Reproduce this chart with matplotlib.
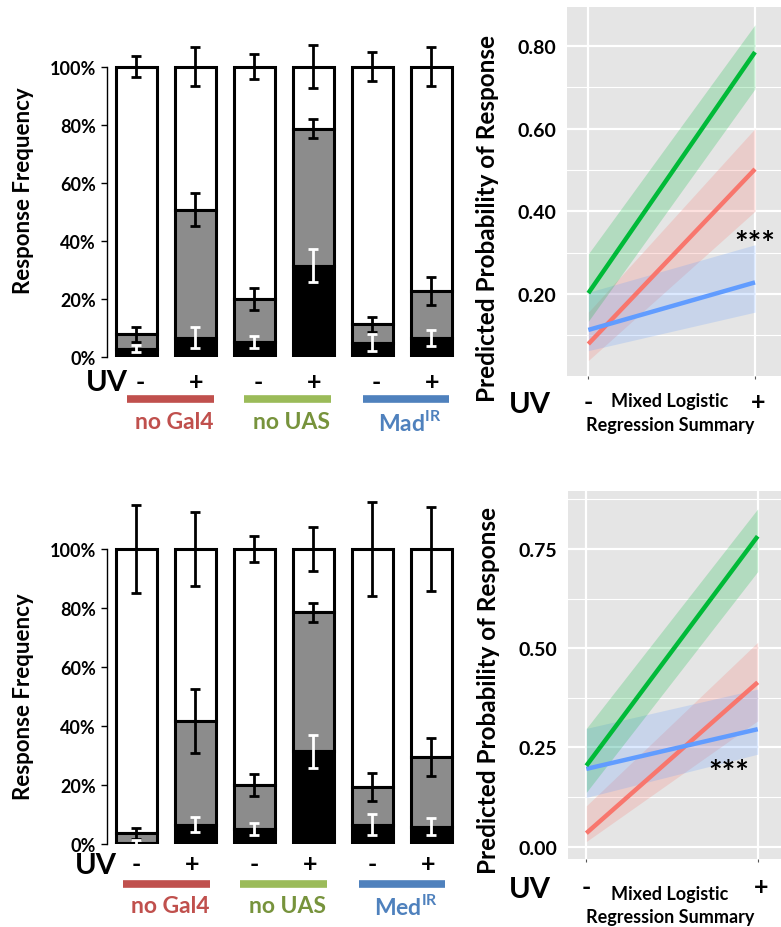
import numpy as np
import matplotlib.pyplot as plt
from matplotlib.lines import Line2D
from matplotlib.ticker import FixedLocator

plt.rcParams['font.family'] = ['Lato', 'DejaVu Sans']
plt.rcParams['font.weight'] = 'bold'
plt.rcParams['axes.labelweight'] = 'bold'
plt.rcParams['mathtext.fontset'] = 'custom'
plt.rcParams['mathtext.rm'] = 'Lato:bold'
plt.rcParams['mathtext.bf'] = 'Lato:bold'

# ---- data: stacked response bars (percent) ----
uv_signs = ['-', '+', '-', '+', '-', '+']
groups = ['no Gal4', 'no UAS']

top_black = [2.9, 6.7, 5.2, 31.5, 4.9, 6.5]
top_gray = [7.8, 50.7, 20.0, 78.6, 11.2, 22.7]      # cumulative top of grey segment
top_err_black = [1.3, 3.6, 2.1, 5.6, 3.0, 2.8]
top_err_gray = [2.5, 5.6, 3.7, 3.3, 2.5, 4.8]
top_err_white = [3.6, 6.7, 4.3, 7.3, 4.9, 6.7]

bot_black = [0.5, 6.6, 5.1, 31.4, 6.6, 5.9]
bot_gray = [3.6, 41.8, 20.1, 78.5, 19.4, 29.6]
bot_err_black = [0.9, 2.5, 2.1, 5.5, 3.5, 2.9]
bot_err_gray = [1.8, 10.8, 3.7, 3.3, 4.8, 6.4]
bot_err_white = [15.0, 12.4, 4.4, 7.3, 16.1, 14.4]

# ---- data: mixed logistic regression summary (UV -, UV +) ----
uv_x = [1, 2]
top_fit = {'green': [0.202, 0.785], 'red': [0.079, 0.502], 'blue': [0.113, 0.228]}
top_lo = {'green': [0.134, 0.696], 'red': [0.039, 0.400], 'blue': [0.063, 0.156]}
top_hi = {'green': [0.297, 0.851], 'red': [0.156, 0.600], 'blue': [0.204, 0.319]}

bot_fit = {'green': [0.204, 0.782], 'red': [0.034, 0.414], 'blue': [0.196, 0.296]}
bot_lo = {'green': [0.137, 0.693], 'red': [0.013, 0.317], 'blue': [0.124, 0.233]}
bot_hi = {'green': [0.298, 0.851], 'red': [0.103, 0.515], 'blue': [0.298, 0.397]}

line_cols = {'green': '#00BA38', 'red': '#F8766D', 'blue': '#619CFF'}
grp_line_cols = ['#C0504D', '#9BBB59', '#4F81BD']
grp_text_cols = ['#C0504D', '#77933C', '#4F81BD']

W, H = 781, 928
fig = plt.figure(figsize=(W / 100, H / 100), dpi=100)


def box(l, t, r, b):
    return [l / W, 1 - b / H, (r - l) / W, (b - t) / H]


def ftext(x, y, s, **kw):
    fig.text(x / W, 1 - y / H, s, ha='center', va='center', fontweight='bold', **kw)


def fline(x0, x1, y, col):
    fig.add_artist(Line2D([x0 / W, x1 / W], [1 - y / H, 1 - y / H],
                          transform=fig.transFigure, color=col, lw=5.5,
                          solid_capstyle='butt'))


def bars(ax, black, gray, eb, eg, ew, ytop):
    x = np.arange(len(black))
    b = np.array(black) / 100
    g = np.array(gray) / 100
    kw = dict(width=0.7, edgecolor='black', linewidth=2.2)
    ax.bar(x, 1 - g, bottom=g, color='white', **kw)
    ax.bar(x, g - b, bottom=b, color='#8c8c8c', **kw)
    ax.bar(x, b, color='black', **kw)
    ax.errorbar(x, np.ones(len(x)), yerr=np.array(ew) / 100, fmt='none',
                ecolor='black', elinewidth=2, capsize=3.5, capthick=2)
    ax.errorbar(x, g, yerr=np.array(eg) / 100, fmt='none',
                ecolor='black', elinewidth=2, capsize=3.5, capthick=2)
    ax.errorbar(x, b, yerr=np.array(eb) / 100, fmt='none',
                ecolor='white', elinewidth=2, capsize=3.5, capthick=2)
    ax.set_xlim(-0.5, 5.4)
    ax.set_ylim(0, ytop)
    ax.set_xticks([])
    ax.set_yticks([0, 0.2, 0.4, 0.6, 0.8, 1.0])
    ax.set_yticklabels(['0%', '20%', '40%', '60%', '80%', '100%'], fontweight='bold')
    ax.tick_params(axis='y', labelsize=13, length=4, width=1, pad=4)
    for s in ['top', 'right', 'bottom']:
        ax.spines[s].set_visible(False)
    ax.spines['left'].set_bounds(0, 1)
    ax.spines['left'].set_linewidth(1)
    ax.set_ylabel('Response Frequency', fontsize=16, fontweight='bold')


def summary(ax, fit, lo, hi, ylim, major, minor, xlim):
    ax.set_facecolor('#E5E5E5')
    for k in ['red', 'blue', 'green']:
        ax.fill_between(uv_x, lo[k], hi[k], color=line_cols[k], alpha=0.22, lw=0)
    for k in ['red', 'blue', 'green']:
        ax.plot(uv_x, fit[k], color=line_cols[k], lw=3.2, solid_capstyle='butt')
    ax.set_xlim(*xlim)
    ax.set_ylim(*ylim)
    ax.set_yticks(major)
    ax.yaxis.set_minor_locator(FixedLocator(minor))
    ax.set_yticklabels([f'{v:.2f}' for v in major], fontweight='bold')
    ax.set_xticks(uv_x)
    ax.set_xticklabels(['', ''])
    ax.grid(which='major', color='white', lw=1.6)
    ax.grid(which='minor', axis='y', color='white', lw=0.8)
    ax.set_axisbelow(True)
    ax.tick_params(axis='y', which='both', length=0, labelsize=14, pad=8)
    ax.tick_params(axis='x', length=2, color='#555555')
    for s in ax.spines.values():
        s.set_visible(False)
    ax.set_ylabel('Predicted Probability of Response', fontsize=17.5, fontweight='bold')


# ---------- top row ----------
ax1 = fig.add_axes(box(107, 24, 455, 358))
bars(ax1, top_black, top_gray, top_err_black, top_err_gray, top_err_white, 1.15)
ax1.yaxis.set_label_coords(-0.21, 0.5)

ax2 = fig.add_axes(box(567, 8, 781, 377))
summary(ax2, top_fit, top_lo, top_hi, (0.0016, 0.894),
        [0.2, 0.4, 0.6, 0.8], [0.1, 0.3, 0.5, 0.7], (0.872, 2.156))
ax2.text(2.0, 0.32, '***', fontsize=23, ha='center', va='center')
ax2.yaxis.set_label_coords(-0.32, 0.43)

# ---------- bottom row ----------
ax3 = fig.add_axes(box(107, 491, 455, 845))
bars(ax3, bot_black, bot_gray, bot_err_black, bot_err_gray, bot_err_white, 1.2)
ax3.yaxis.set_label_coords(-0.21, 0.42)

ax4 = fig.add_axes(box(568, 492, 781, 860))
summary(ax4, bot_fit, bot_lo, bot_hi, (-0.031, 0.896),
        [0.0, 0.25, 0.5, 0.75], [0.125, 0.375, 0.625, 0.875], (0.893, 2.136))
ax4.text(1.83, 0.185, '***', fontsize=23, ha='center', va='center')
ax4.yaxis.set_label_coords(-0.32, 0.46)

# ---------- annotations under bar charts ----------
bar_px = [136.5, 195.5, 254, 313, 372.5, 431]
for (ysign, yline, ylab, uvx, dx, lab3) in [(382, 400, 423, 107, 0, 'Mad$^{\\mathbf{IR}}$'),
                                            (865, 885, 907, 96, -4, 'Med$^{\\mathbf{IR}}$')]:
    ftext(uvx, ysign + 1, 'UV', fontsize=21)
    for px, s in zip(bar_px, uv_signs):
        ftext(px + (4 if s == '-' else 1) + dx, ysign, s, fontsize=18)
    names = groups + [lab3]
    for i in range(3):
        x0 = bar_px[2 * i] - 10 + dx
        x1 = bar_px[2 * i + 1] + 18 + dx
        fline(x0, x1, yline, grp_line_cols[i])
        ftext((x0 + x1) / 2 + 4, ylab, names[i], fontsize=16.5, color=grp_text_cols[i])

# ---------- annotations under summary panels ----------
for (y_uv, y_m, y_r, xm, xp) in [(405, 402, 426, 588, 755), (890, 895, 918, 586, 758)]:
    ftext(530, y_uv, 'UV', fontsize=21)
    ftext(xm, y_uv - 2, '-', fontsize=18)
    ftext(xp + 3, y_uv - 2, '+', fontsize=18)
    ftext(670, y_m, 'Mixed Logistic', fontsize=13)
    ftext(670, y_r, 'Regression Summary', fontsize=13)

fig.savefig('out.png', dpi=100)
